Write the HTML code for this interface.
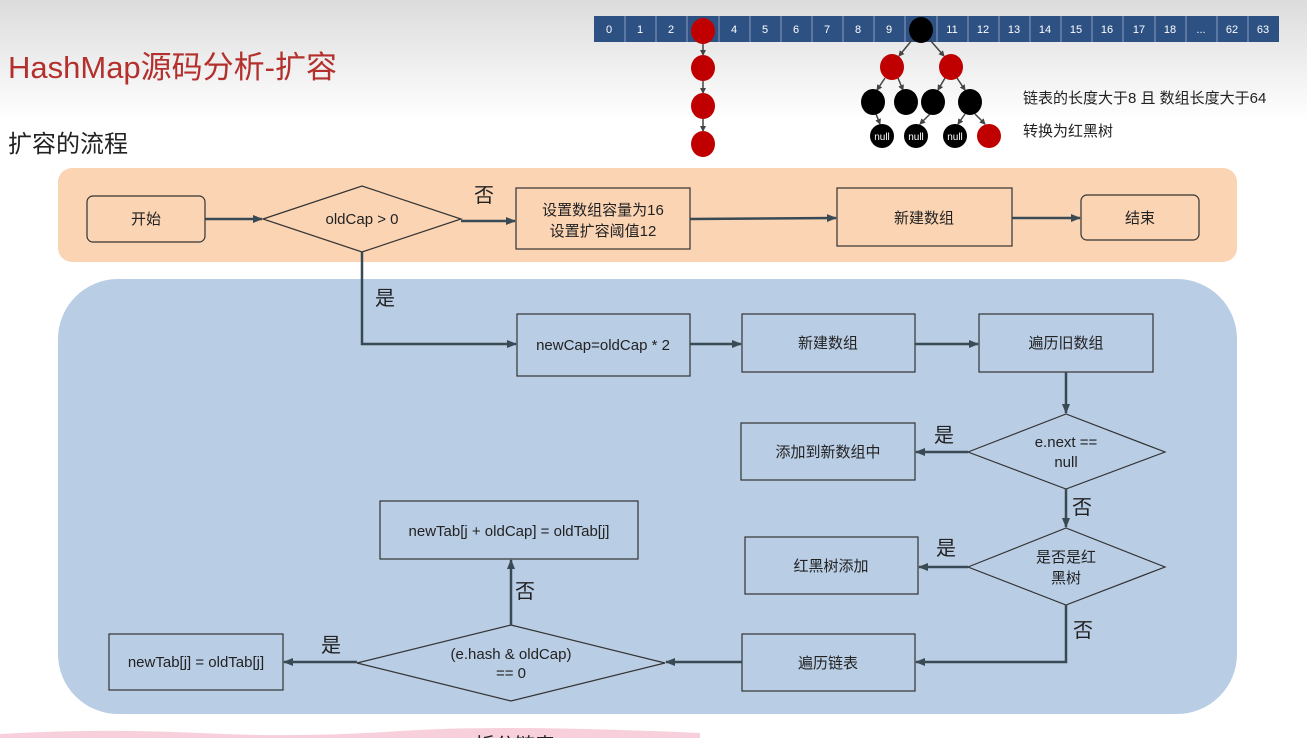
<!DOCTYPE html>
<html><head><meta charset="utf-8"><style>
body{margin:0;width:1307px;height:738px;overflow:hidden;background:#fff;font-family:"Liberation Sans","Noto Sans CJK SC",sans-serif}
</style></head><body>
<svg width="1307" height="738" xmlns="http://www.w3.org/2000/svg" font-family="Liberation Sans, Noto Sans CJK SC, sans-serif">
<defs>
<linearGradient id="bg" x1="0" y1="0" x2="0" y2="1"><stop offset="0" stop-color="#dcdcdc"/><stop offset="1" stop-color="#ffffff"/></linearGradient>
<marker id="a" markerWidth="10" markerHeight="10" refX="9" refY="5" orient="auto" markerUnits="userSpaceOnUse"><path d="M0,1 L10,5 L0,9 Z" fill="#3a4a55"/></marker>
<marker id="s" markerWidth="6" markerHeight="6" refX="5" refY="3" orient="auto" markerUnits="userSpaceOnUse"><path d="M0,0 L6,3 L0,6 Z" fill="#444"/></marker>
</defs>
<rect x="0" y="0" width="1307" height="120" fill="url(#bg)"/>
<path d="M0,734 Q100,728 200,733 T400,731 T700,733 L700,738 L0,738Z" fill="#f8d0dc"/>
<text x="8" y="78" font-size="31" fill="#b3302d">HashMap源码分析-扩容</text>
<text x="8" y="152" font-size="24" fill="#222">扩容的流程</text>
<g font-size="11" fill="#fff" text-anchor="middle">
<rect x="594" y="16" width="685" height="26" fill="#2d5183"/>
<g stroke="#8aa0c0" stroke-width="1">
<line x1="625" y1="16" x2="625" y2="42"/><line x1="656" y1="16" x2="656" y2="42"/><line x1="687" y1="16" x2="687" y2="42"/><line x1="719" y1="16" x2="719" y2="42"/><line x1="750" y1="16" x2="750" y2="42"/><line x1="781" y1="16" x2="781" y2="42"/><line x1="812" y1="16" x2="812" y2="42"/><line x1="843" y1="16" x2="843" y2="42"/><line x1="874" y1="16" x2="874" y2="42"/><line x1="905" y1="16" x2="905" y2="42"/><line x1="937" y1="16" x2="937" y2="42"/><line x1="968" y1="16" x2="968" y2="42"/><line x1="999" y1="16" x2="999" y2="42"/><line x1="1030" y1="16" x2="1030" y2="42"/><line x1="1061" y1="16" x2="1061" y2="42"/><line x1="1092" y1="16" x2="1092" y2="42"/><line x1="1123" y1="16" x2="1123" y2="42"/><line x1="1155" y1="16" x2="1155" y2="42"/><line x1="1186" y1="16" x2="1186" y2="42"/><line x1="1217" y1="16" x2="1217" y2="42"/><line x1="1248" y1="16" x2="1248" y2="42"/>
</g>
<text x="609" y="33">0</text><text x="640" y="33">1</text><text x="671" y="33">2</text><text x="734" y="33">4</text><text x="765" y="33">5</text><text x="796" y="33">6</text><text x="827" y="33">7</text><text x="858" y="33">8</text><text x="889" y="33">9</text><text x="952" y="33">11</text><text x="983" y="33">12</text><text x="1014" y="33">13</text><text x="1045" y="33">14</text><text x="1076" y="33">15</text><text x="1107" y="33">16</text><text x="1139" y="33">17</text><text x="1170" y="33">18</text><text x="1201" y="33">...</text><text x="1232" y="33">62</text><text x="1263" y="33">63</text>
</g>
<g stroke="#444" stroke-width="1.5" marker-end="url(#s)">
<line x1="703" y1="43" x2="703" y2="55"/><line x1="703" y1="81" x2="703" y2="93"/><line x1="703" y1="119" x2="703" y2="131"/>
<line x1="912" y1="40" x2="899" y2="56"/><line x1="930" y1="40" x2="944" y2="56"/>
<line x1="885" y1="78" x2="877" y2="90"/><line x1="898" y1="78" x2="903" y2="90"/><line x1="945" y1="78" x2="938" y2="90"/><line x1="957" y1="78" x2="965" y2="90"/>
<line x1="876" y1="114" x2="880" y2="124"/><line x1="930" y1="114" x2="920" y2="124"/><line x1="965" y1="114" x2="958" y2="124"/><line x1="975" y1="114" x2="985" y2="124"/>
</g>
<g fill="#c00000">
<ellipse cx="703" cy="31" rx="12" ry="13"/><ellipse cx="703" cy="68" rx="12" ry="13"/><ellipse cx="703" cy="106" rx="12" ry="13"/><ellipse cx="703" cy="144" rx="12" ry="13"/>
<ellipse cx="892" cy="67" rx="12" ry="13"/><ellipse cx="951" cy="67" rx="12" ry="13"/><ellipse cx="989" cy="136" rx="12" ry="12"/>
</g>
<g fill="#000">
<ellipse cx="921" cy="30" rx="12" ry="13"/>
<ellipse cx="873" cy="102" rx="12" ry="13"/><ellipse cx="906" cy="102" rx="12" ry="13"/><ellipse cx="933" cy="102" rx="12" ry="13"/><ellipse cx="970" cy="102" rx="12" ry="13"/>
<ellipse cx="882" cy="136" rx="12" ry="12"/><ellipse cx="916" cy="136" rx="12" ry="12"/><ellipse cx="955" cy="136" rx="12" ry="12"/>
</g>
<g fill="#fff" font-size="10" text-anchor="middle"><text x="882" y="140">null</text><text x="916" y="140">null</text><text x="955" y="140">null</text></g>
<text x="1023" y="103" font-size="15" fill="#222">链表的长度大于8 且 数组长度大于64</text>
<text x="1023" y="136" font-size="15" fill="#222">转换为红黑树</text>

<rect x="58" y="168" width="1179" height="94" rx="14" fill="#fbd4b4"/>
<rect x="58" y="279" width="1179" height="435" rx="60" fill="#b9cde5"/>

<g stroke="#333" stroke-width="1.2" font-size="15" fill="#222">
<rect x="87" y="196" width="118" height="46" rx="6" fill="#fbd4b4"/>
<polygon points="263,219 362,186 461,219 362,252" fill="#fbd4b4"/>
<rect x="516" y="188" width="174" height="61" fill="#fbd4b4"/>
<rect x="837" y="188" width="175" height="58" fill="#fbd4b4"/>
<rect x="1081" y="195" width="118" height="45" rx="6" fill="#fbd4b4"/>
<rect x="517" y="314" width="173" height="62" fill="#b9cde5"/>
<rect x="742" y="314" width="173" height="58" fill="#b9cde5"/>
<rect x="979" y="314" width="174" height="58" fill="#b9cde5"/>
<polygon points="968,452 1066,414 1165,452 1066,489" fill="#b9cde5"/>
<rect x="741" y="423" width="174" height="57" fill="#b9cde5"/>
<polygon points="968,567 1066,528 1165,567 1066,605" fill="#b9cde5"/>
<rect x="745" y="537" width="173" height="57" fill="#b9cde5"/>
<rect x="742" y="634" width="173" height="57" fill="#b9cde5"/>
<polygon points="357,663 511,625 665,663 511,701" fill="#b9cde5"/>
<rect x="109" y="634" width="174" height="56" fill="#b9cde5"/>
<rect x="380" y="501" width="258" height="58" fill="#b9cde5"/>
</g>
<g stroke="#3a4a55" stroke-width="2.5" fill="none" marker-end="url(#a)">
<line x1="205" y1="219" x2="262" y2="219"/>
<line x1="461" y1="221" x2="515" y2="221"/>
<line x1="690" y1="219" x2="836" y2="218"/>
<line x1="1012" y1="218" x2="1080" y2="218"/>
<polyline points="362,252 362,344 516,344"/>
<line x1="690" y1="344" x2="741" y2="344"/>
<line x1="915" y1="344" x2="978" y2="344"/>
<line x1="1066" y1="372" x2="1066" y2="413"/>
<line x1="968" y1="452" x2="916" y2="452"/>
<line x1="1066" y1="489" x2="1066" y2="527"/>
<line x1="968" y1="567" x2="919" y2="567"/>
<polyline points="1066,605 1066,662 916,662"/>
<line x1="742" y1="662" x2="666" y2="662"/>
<line x1="357" y1="662" x2="284" y2="662"/>
<line x1="511" y1="625" x2="511" y2="560"/>
</g>
<g font-size="15" fill="#222" text-anchor="middle">
<text x="146" y="224">开始</text>
<text x="362" y="224">oldCap &gt; 0</text>
<text x="603" y="215">设置数组容量为16</text><text x="603" y="236">设置扩容阈值12</text>
<text x="924" y="223">新建数组</text>
<text x="1140" y="223">结束</text>
<text x="603" y="350">newCap=oldCap * 2</text>
<text x="828" y="348">新建数组</text>
<text x="1066" y="348">遍历旧数组</text>
<text x="1066" y="447">e.next ==</text><text x="1066" y="467">null</text>
<text x="828" y="457">添加到新数组中</text>
<text x="1066" y="562">是否是红</text><text x="1066" y="583">黑树</text>
<text x="831" y="571">红黑树添加</text>
<text x="828" y="668">遍历链表</text>
<text x="511" y="659">(e.hash &amp; oldCap)</text><text x="511" y="678">== 0</text>
<text x="196" y="667">newTab[j] = oldTab[j]</text>
<text x="509" y="536">newTab[j + oldCap] = oldTab[j]</text>
</g>
<g font-size="20" fill="#222" text-anchor="middle">
<text x="484" y="202">否</text><text x="385" y="305">是</text><text x="944" y="442">是</text><text x="1082" y="514">否</text>
<text x="946" y="555">是</text><text x="1083" y="637">否</text><text x="525" y="598">否</text><text x="331" y="652">是</text>
<text x="515" y="752">拆分链表</text>
</g>
</svg>
</body></html>
